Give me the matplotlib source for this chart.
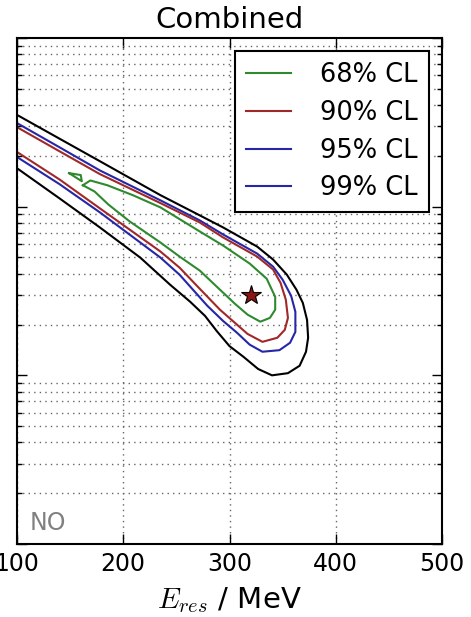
import matplotlib
matplotlib.use('Agg')
import matplotlib.pyplot as plt
from matplotlib.lines import Line2D
import numpy as np

plt.rcParams['mathtext.fontset'] = 'cm'
plt.rcParams['font.family'] = 'DejaVu Sans'

# resonance energy (MeV) / width along each confidence contour
e_68 = [162, 169, 185, 209, 235, 272, 294, 319, 335, 343, 343, 338, 329, 317, 305, 291, 272, 253, 235, 206, 186, 173, 162]
g_68 = [134, 143, 134, 117, 99.0, 71.3, 58.8, 46.0, 37.4, 29.2, 24.5, 21.9, 20.8, 22.9, 26.6, 32.2, 41.8, 50.6, 61.3, 81.8, 103, 123, 134]
e_68_island = [149, 160, 161, 149]
g_68_island = [158, 154, 141.5, 158]

e_90 = [100, 140, 178, 235, 272, 294, 326, 341, 348, 353, 355, 352, 345, 331, 317, 305, 291, 272, 253, 235, 178, 140, 100]
g_90 = [296, 213, 156, 105, 80.6, 65.7, 50.6, 42.4, 35.4, 28.1, 21.9, 18.6, 16.7, 15.8, 17.6, 20.5, 24.5, 32.6, 43.5, 54.2, 97.7, 145, 211]

e_95 = [100, 140, 178, 235, 272, 294, 326, 341, 350, 358, 362, 362, 357, 347, 331, 319, 307, 294, 279, 253, 235, 178, 140, 100]
g_95 = [313, 225, 164, 109, 82.9, 68.4, 52.7, 44.1, 36.9, 29.6, 23.8, 18.1, 15.6, 14.1, 13.8, 15.2, 17.9, 21.0, 25.9, 39.5, 49.9, 92.5, 136, 197]

e_99 = [100, 140, 178, 235, 272, 294, 326, 341, 354, 363, 369, 373, 374, 372, 366, 355, 340, 327, 313, 300, 288, 277, 263, 244, 216, 178, 140, 100]
g_99 = [350, 253, 186, 117, 88.8, 75.3, 58.0, 48.6, 39.5, 32.2, 26.9, 21.3, 16.7, 13.8, 11.4, 10.3, 10.0, 10.9, 12.9, 14.9, 18.3, 22.5, 27.3, 34.5, 49.9, 75.3, 112, 169]

best_e = [320]
best_g = [30]

cl_labels = ['68% CL', '90% CL', '95% CL', '99% CL']
green = '#2f8a2f'
red = '#a02828'
blue = '#2626a8'

fig = plt.figure(figsize=(4.71, 6.17), dpi=100)
ax = fig.add_axes([17 / 471, 73 / 617, 425 / 471, 506 / 617])

ax.plot(e_99, g_99, color='black', lw=1.5)
ax.plot(e_95, g_95, color=blue, lw=1.5)
ax.plot(e_90, g_90, color=red, lw=1.5)
ax.plot(e_68, g_68, color=green, lw=1.5)
ax.plot(e_68_island, g_68_island, color=green, lw=1.5)
ax.plot(best_e, best_g, marker='*', ms=15, color='#8b1414', mec='black', mew=0.8, ls='none')

ax.set_yscale('log')
ax.set_xlim(100, 500)
ax.set_ylim(1, 1000)
ax.set_xticks([100, 200, 300, 400, 500])

ax.grid(True, axis='x', which='major', color='0.4', ls=(0, (1, 3)), lw=1)
ax.grid(True, axis='y', which='minor', color='0.4', ls=(0, (1, 3)), lw=1)
ax.tick_params(which='both', direction='in', top=True, right=True, labelleft=False)
ax.tick_params(which='major', length=7, width=1, labelsize=17, pad=6)
ax.tick_params(which='minor', length=3.5, width=1)
for s in ax.spines.values():
    s.set_linewidth(1.5)

ax.set_title('Combined', fontsize=21, pad=7)
ax.set_xlabel('$E_{res}$ / MeV', fontsize=21, labelpad=6)
ax.text(0.03, 0.028, 'NO', transform=ax.transAxes, color='gray', fontsize=17, va='baseline')

handles = [Line2D([], [], color=c, lw=1.5) for c in [green, red, blue, blue]]
leg = ax.legend(handles, cl_labels, loc='upper right', fontsize=18.5, fancybox=False,
                framealpha=1, edgecolor='black', handlelength=1.75, handletextpad=1.13,
                labelspacing=0.46, borderpad=0.43, borderaxespad=0.5)
leg.get_frame().set_linewidth(1.5)

fig.savefig('out.png', dpi=100)
